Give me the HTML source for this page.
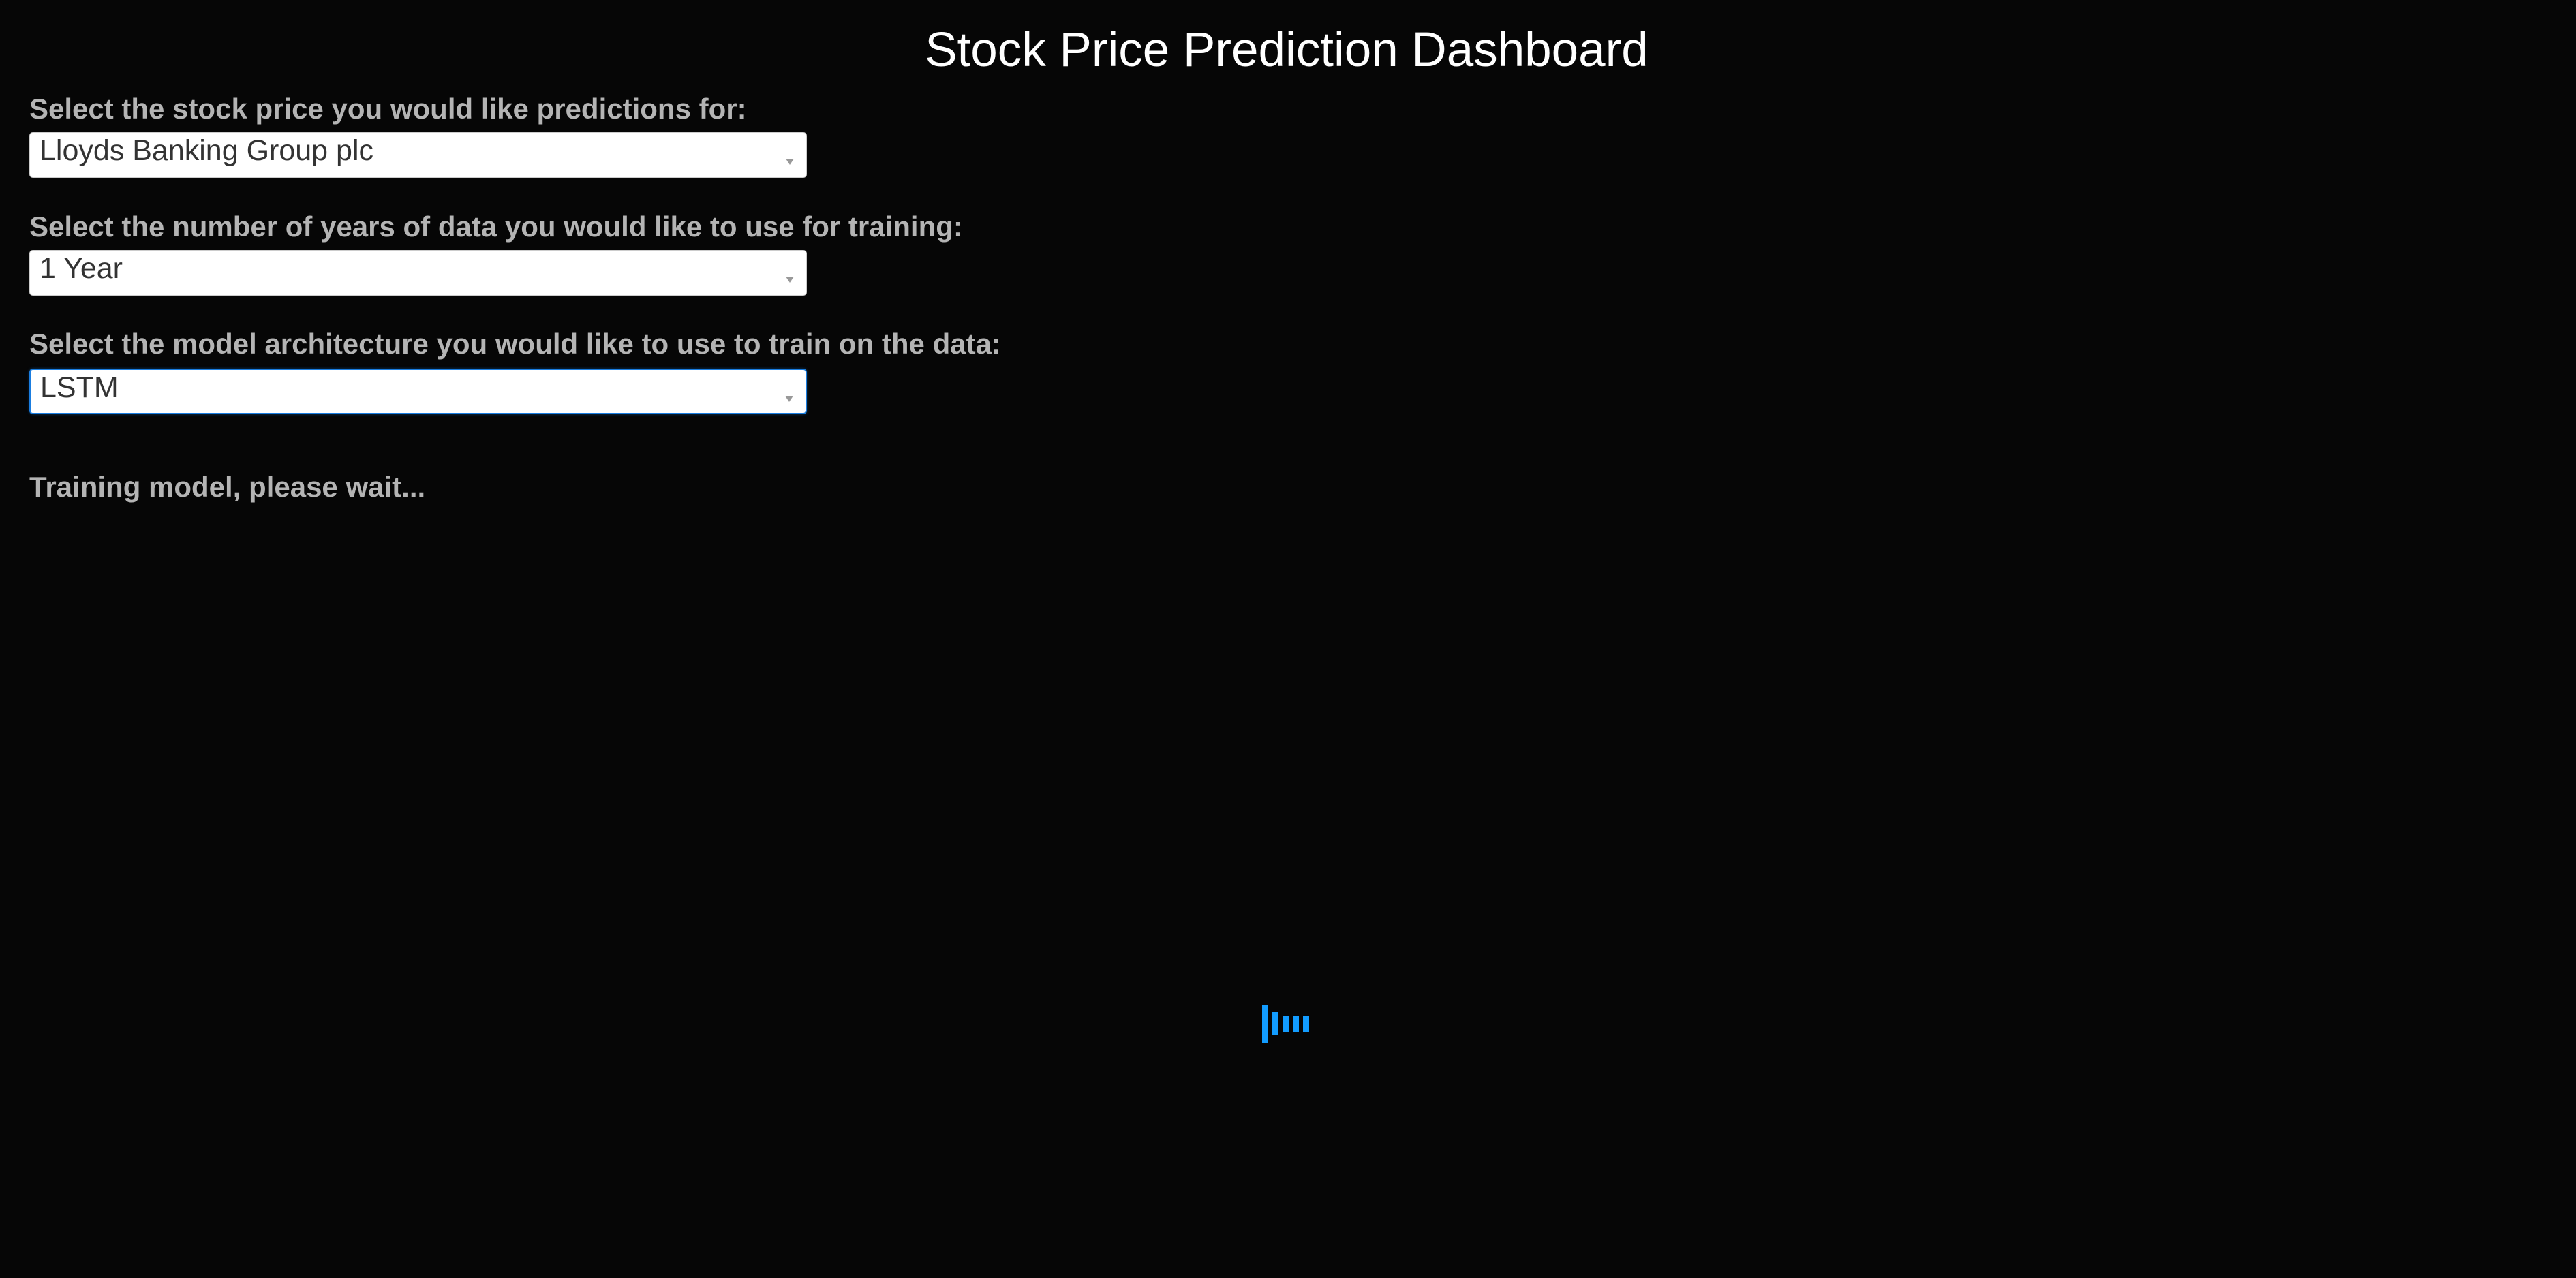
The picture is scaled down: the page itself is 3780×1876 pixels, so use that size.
<!DOCTYPE html>
<html><head><meta charset="utf-8"><style>
html,body{margin:0;padding:0;width:3780px;height:1876px;background:#060606;overflow:hidden;font-family:"Liberation Sans",sans-serif;}
.abs{position:absolute;}
#title{left:0;width:3776px;top:26px;text-align:center;color:#fff;font-size:71px;line-height:96px;}
.lbl{left:43px;color:#b4b4b4;font-weight:bold;font-size:42px;line-height:50px;}
.dd{left:43px;width:1141px;height:67px;background:#fff;border:1px solid #ccc;border-radius:5px;box-sizing:border-box;}
.dd span{position:absolute;left:14px;top:2px;font-size:43px;color:#333;line-height:48px;}
.dd i{position:absolute;right:18px;top:38px;width:0;height:0;border-left:6px solid transparent;border-right:6px solid transparent;border-top:9px solid #999;}
.bar{background:#129cff;width:9px;}
</style></head><body>
<div id="title" class="abs">Stock Price Prediction Dashboard</div>
<div class="abs lbl" style="top:135px">Select the stock price you would like predictions for:</div>
<div class="abs dd" style="top:194px"><span>Lloyds Banking Group plc</span><i></i></div>
<div class="abs lbl" style="top:308px">Select the number of years of data you would like to use for training:</div>
<div class="abs dd" style="top:367px"><span>1 Year</span><i></i></div>
<div class="abs lbl" style="top:480px">Select the model architecture you would like to use to train on the data:</div>
<div class="abs dd" style="top:541px;border:2px solid #1a7de0;box-shadow:0 0 4px #08335a"><span>LSTM</span><i></i></div>
<div class="abs lbl" style="top:690px">Training model, please wait...</div>
<div>
<div class="abs bar" style="left:1852px;top:1475px;height:56px"></div>
<div class="abs bar" style="left:1867px;top:1486px;height:34px"></div>
<div class="abs bar" style="left:1882px;top:1491px;height:24px"></div>
<div class="abs bar" style="left:1897px;top:1491px;height:24px"></div>
<div class="abs bar" style="left:1912px;top:1491px;height:24px"></div>
</div>
</body></html>
